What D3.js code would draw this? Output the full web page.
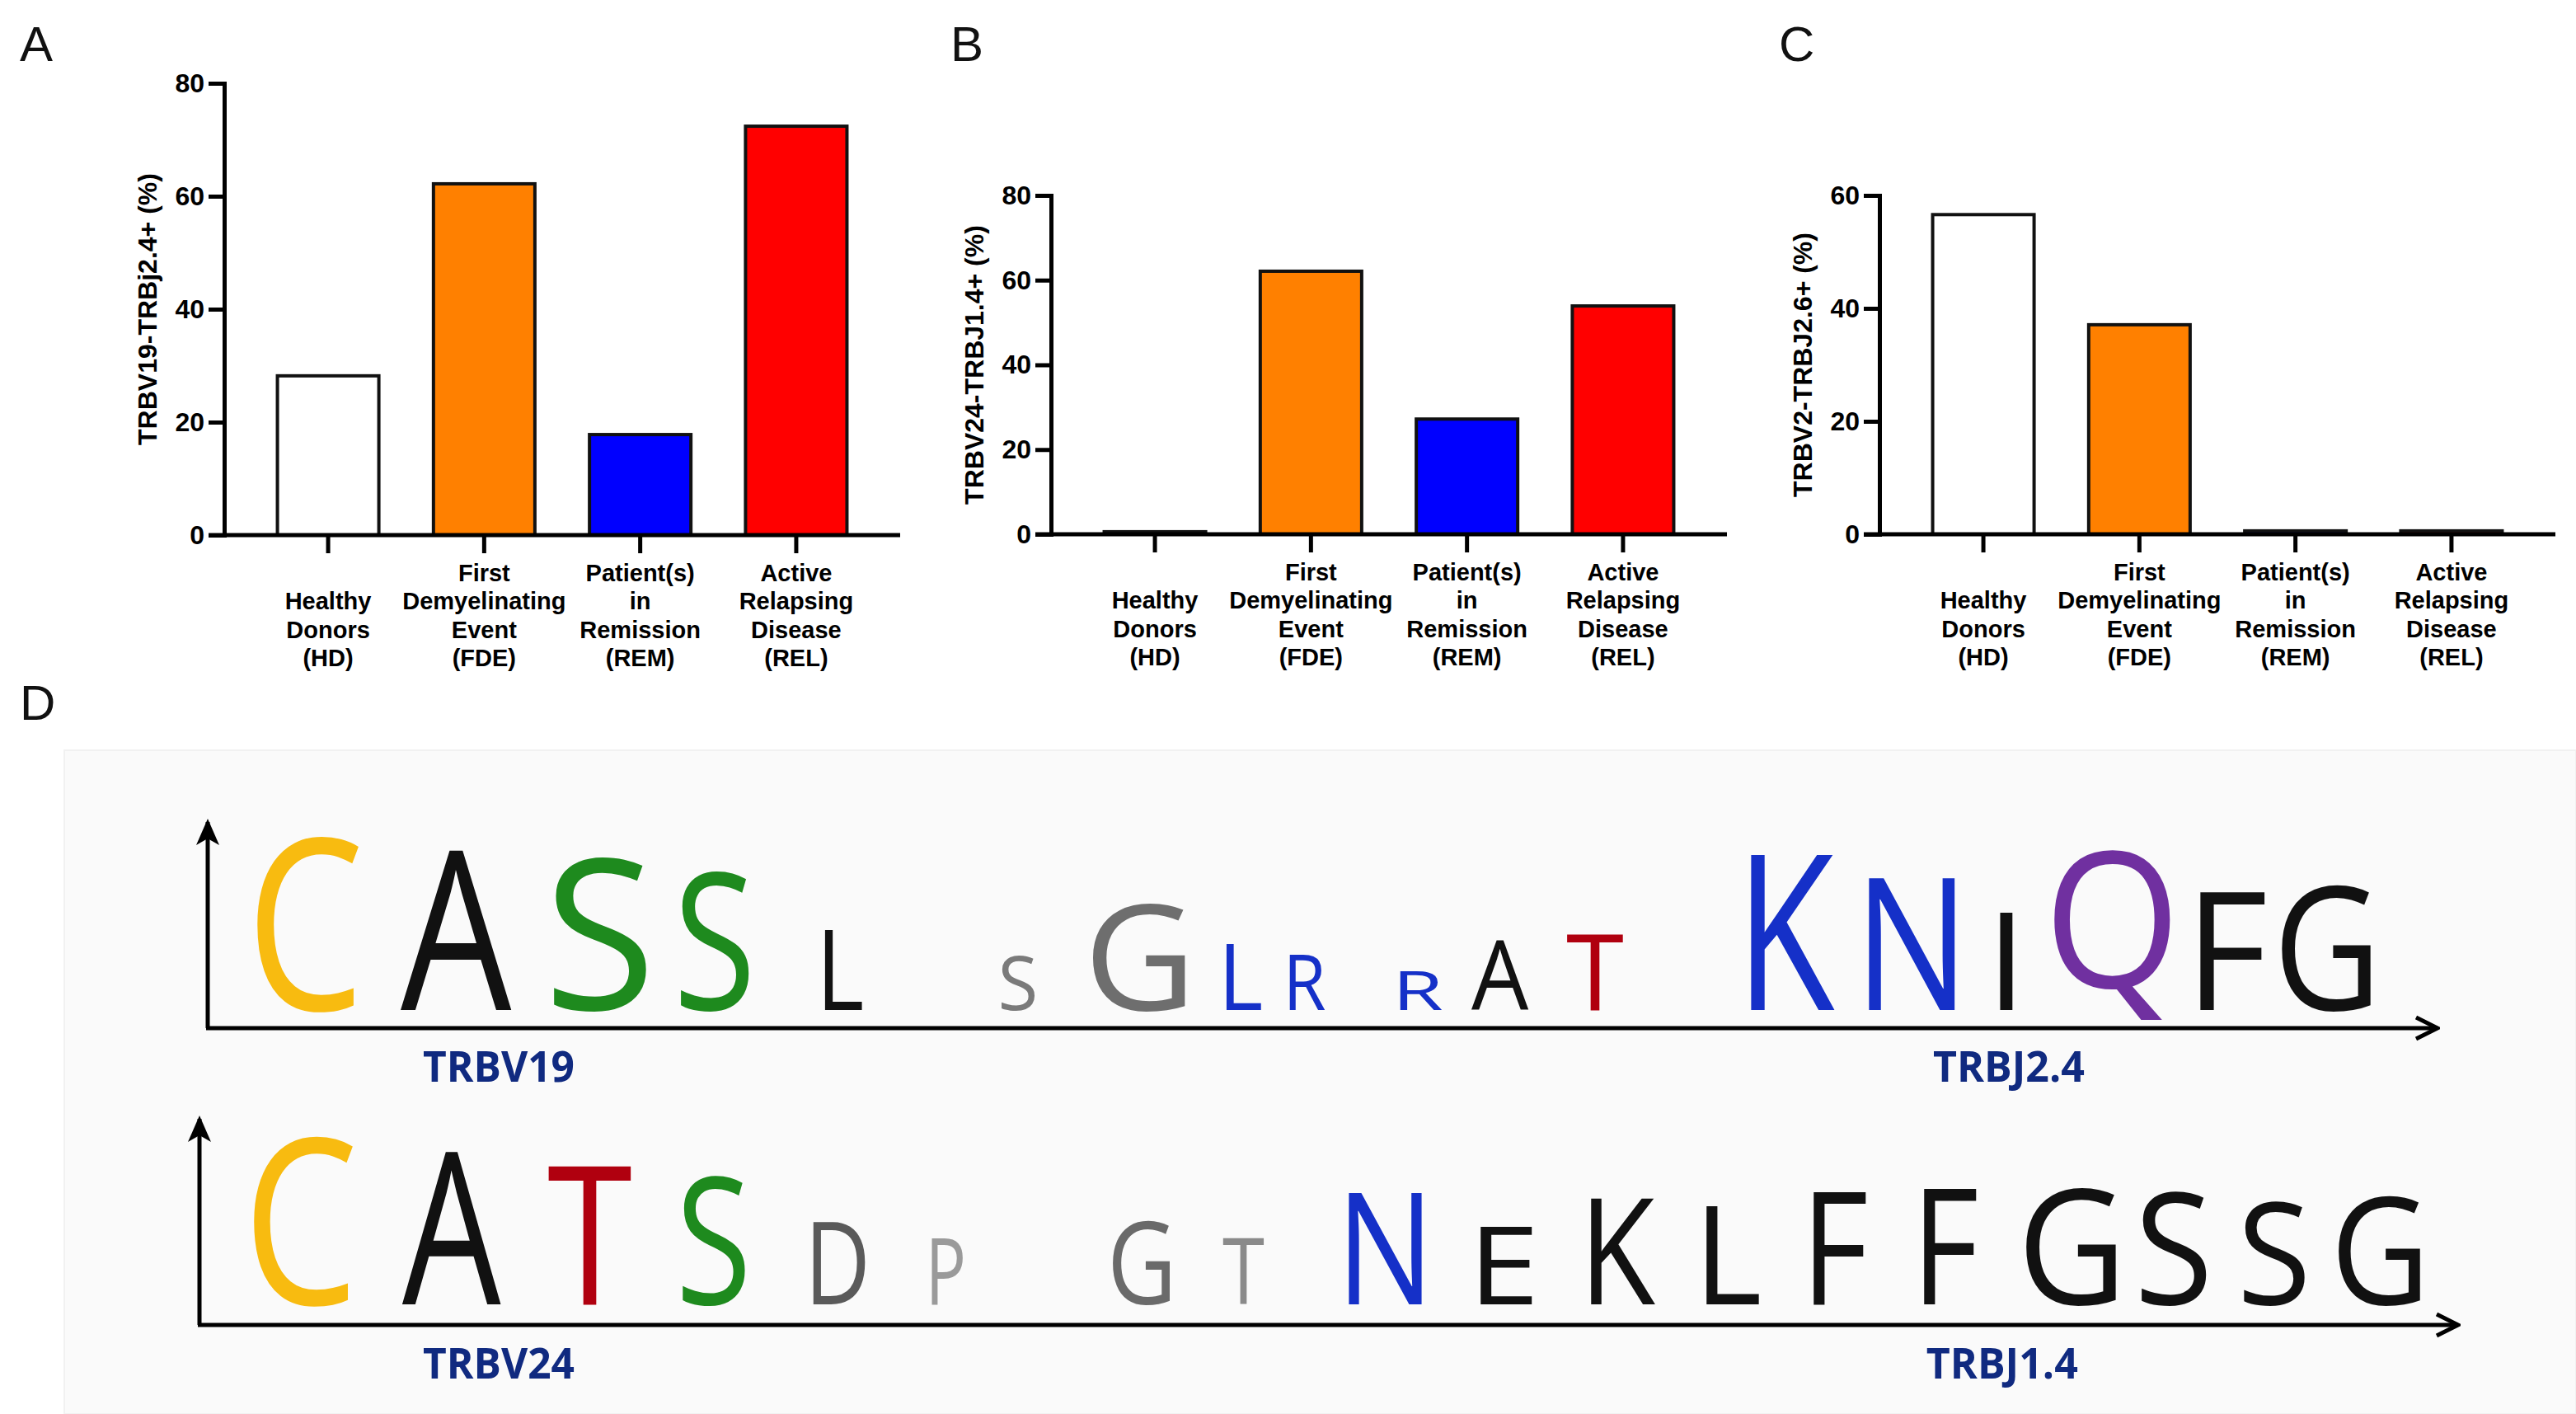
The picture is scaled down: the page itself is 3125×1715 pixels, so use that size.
<!DOCTYPE html>
<html>
<head>
<meta charset="utf-8">
<script src="https://cdn.jsdelivr.net/npm/d3@7"></script>
<style>
html, body { margin: 0; padding: 0; background: #fff; }
svg { display: block; }
</style>
</head>
<body>
<svg id="fig" width="3125" height="1715"></svg>
<script>
// ---- panels A-C : bar charts ----
var groupKeys = ["HD", "FDE", "REM", "REL"];
var groupLabels = [
  ["Healthy", "Donors", "(HD)"],
  ["First", "Demyelinating", "Event", "(FDE)"],
  ["Patient(s)", "in", "Remission", "(REM)"],
  ["Active", "Relapsing", "Disease", "(REL)"]
];
var valuesA = [28.2, 62.2, 17.8, 72.4];
var valuesB = [0.6, 62.1, 27.2, 53.9];
var valuesC = [56.6, 37.1, 0.6, 0.6];
var ticksA = [0, 20, 40, 60, 80];
var ticksB = [0, 20, 40, 60, 80];
var ticksC = [0, 20, 40, 60];
var titleA = "TRBV19-TRBj2.4+ (%)";
var titleB = "TRBV24-TRBJ1.4+ (%)";
var titleC = "TRBV2-TRBJ2.6+ (%)";

// ---- panel D : sequence logos (positions in % of logo axis, heights in bits) ----
var logo1Letters = ["C","A","S","S","L","S","G","L","R","R","A","T","K","N","I","Q","F","G"];
var logo1Start = [2.29, 8.71, 15.57, 21.25, 27.68, 35.61, 39.70, 45.65, 48.49, 53.43, 56.64, 60.89, 69.11, 74.39, 80.26, 82.73, 89.22, 92.92];
var logo1End   = [6.83, 13.73, 19.78, 24.35, 29.37, 37.12, 43.87, 47.23, 50.11, 55.35, 59.23, 63.47, 72.95, 78.30, 80.92, 87.93, 92.18, 96.94];
var logo1Bits  = [3.66, 3.40, 3.21, 2.92, 1.68, 1.16, 2.25, 1.38, 1.17, 0.81, 1.47, 1.61, 3.32, 2.82, 2.07, 3.37, 2.49, 2.63];

var logo2Letters = ["C","A","T","S","D","P","G","T","N","E","K","L","F","F","G","S","S","G"];
var logo2Start = [2.14, 8.78, 15.28, 21.33, 27.16, 32.47, 40.59, 45.50, 51.11, 57.01, 61.96, 67.12, 71.92, 76.86, 81.48, 86.64, 91.22, 95.46];
var logo2End   = [6.57, 13.25, 19.08, 24.17, 29.52, 33.87, 43.17, 47.38, 54.43, 59.37, 64.91, 69.52, 74.32, 79.26, 85.54, 89.59, 93.99, 99.15];
var logo2Bits  = [3.54, 3.25, 2.97, 2.71, 1.73, 1.38, 1.76, 1.42, 2.37, 1.64, 2.26, 2.07, 2.37, 2.45, 2.45, 2.37, 2.18, 2.28];

// colours
var barFill = {HD: "#ffffff", FDE: "#ff8000", REM: "#0000ff", REL: "#ff0000"};
var logo1Colors = ["#f8bb10","#111111","#1e8a1e","#1e8a1e","#111111","#7a7a7a","#6e6e6e","#1530c8","#1530c8","#1530c8",
                   "#111111","#b0000f","#1530c8","#1530c8","#111111","#7030a0","#111111","#111111"];
var logo2Colors = ["#f8bb10","#111111","#b0000f","#1e8a1e","#5a5a5a","#9a9a9a","#6a6a6a","#8a8a8a","#1530c8","#111111",
                   "#111111","#111111","#111111","#111111","#111111","#111111","#111111","#111111"];

var svg = d3.select("#fig");
var chartFont = "'Liberation Sans', Arial, Helvetica, sans-serif";

function barPanel(o) {
  var g = svg.append("g");
  var x = d3.scaleBand().domain(groupKeys)
    .range([o.left, o.left + 820])
    .paddingInner(0.35).paddingOuter(0.341);
  var y = d3.scaleLinear().domain([0, o.max]).range([o.bottom, o.top]);

  g.selectAll("rect.bar")
    .data(groupKeys)
    .enter().append("rect")
    .attr("class", "bar")
    .attr("x", function(d) { return x(d); })
    .attr("width", x.bandwidth())
    .attr("y", function(d, i) { return y(o.values[i]); })
    .attr("height", function(d, i) { return y(0) - y(o.values[i]); })
    .attr("fill", function(d) { return barFill[d]; })
    .attr("stroke", "#111")
    .attr("stroke-width", 4);

  // y axis
  var ya = g.append("g")
    .attr("transform", "translate(" + o.left + ",0)")
    .call(d3.axisLeft(y).tickValues(o.ticks).tickSize(19).tickSizeOuter(0).tickPadding(5));
  ya.select(".domain").attr("stroke", "#000").attr("stroke-width", 5).attr("stroke-linecap", "square");
  ya.selectAll(".tick line").attr("stroke", "#000").attr("stroke-width", 5);
  ya.selectAll(".tick text")
    .attr("font-family", chartFont).attr("font-weight", "bold")
    .attr("font-size", 32).attr("fill", "#000");

  // x axis, starts under the y ticks as in the original
  var xa = g.append("g")
    .attr("transform", "translate(0," + y(0) + ")")
    .call(d3.axisBottom(x).tickSize(22).tickSizeOuter(0).tickFormat(""));
  xa.select(".domain")
    .attr("d", "M" + (o.left - 19) + ",0H" + (o.left + 820))
    .attr("stroke", "#000").attr("stroke-width", 5);
  xa.selectAll(".tick line").attr("stroke", "#000").attr("stroke-width", 5);

  // category labels, bottom aligned
  g.selectAll("text.cat")
    .data(groupKeys)
    .enter().append("text")
    .attr("class", "cat")
    .attr("text-anchor", "middle")
    .attr("font-family", chartFont).attr("font-weight", "bold")
    .attr("font-size", 29).attr("fill", "#000")
    .each(function(d, i) {
      var lines = groupLabels[i];
      var t = d3.select(this);
      lines.forEach(function(s, k) {
        t.append("tspan")
          .attr("x", x(d) + x.bandwidth() / 2)
          .attr("y", o.bottom + 159 - (lines.length - 1 - k) * 34.3)
          .text(s);
      });
    });

  // y title
  g.append("text")
    .attr("transform", "translate(" + (o.left - 82) + "," + ((o.top + o.bottom) / 2) + ") rotate(-90)")
    .attr("text-anchor", "middle")
    .attr("font-family", chartFont).attr("font-weight", "bold")
    .attr("font-size", 32).attr("fill", "#000")
    .text(o.title);

  svg.append("text")
    .attr("x", o.tagX).attr("y", 74)
    .attr("font-family", chartFont).attr("font-size", 60).attr("fill", "#111")
    .text(o.tag);
}

barPanel({left: 272, top: 101, bottom: 649, max: 80, values: valuesA, ticks: ticksA, title: titleA, tag: "A", tagX: 24});
barPanel({left: 1275, top: 237, bottom: 648, max: 80, values: valuesB, ticks: ticksB, title: titleB, tag: "B", tagX: 1153});
barPanel({left: 2280, top: 237, bottom: 648, max: 60, values: valuesC, ticks: ticksC, title: titleC, tag: "C", tagX: 2158});

// ---- panel D ----
svg.append("text")
  .attr("x", 24).attr("y", 873)
  .attr("font-family", chartFont).attr("font-size", 60).attr("fill", "#111")
  .text("D");

svg.append("rect")
  .attr("x", 78).attr("y", 910).attr("width", 3047).attr("height", 805)
  .attr("fill", "#fafafa").attr("stroke", "#f1f1f1").attr("stroke-width", 2);

var defs = svg.append("defs");
defs.append("marker")
  .attr("id", "headFill")
  .attr("viewBox", "0 -16 32 32").attr("refX", 28).attr("refY", 0)
  .attr("markerUnits", "userSpaceOnUse").attr("markerWidth", 32).attr("markerHeight", 32)
  .attr("orient", "auto")
  .append("path").attr("d", "M0,-14L32,0L0,14L8,0Z").attr("fill", "#000");
defs.append("marker")
  .attr("id", "headOpen")
  .attr("viewBox", "0 -16 32 32").attr("refX", 29).attr("refY", 0)
  .attr("markerUnits", "userSpaceOnUse").attr("markerWidth", 32).attr("markerHeight", 32)
  .attr("orient", "auto")
  .append("path").attr("d", "M3,-13L29,0L3,13").attr("fill", "none")
  .attr("stroke", "#000").attr("stroke-width", 5);

var lx = d3.scaleLinear().domain([0, 100]).range([250, 2960]);
var bitLen = d3.scaleLinear().domain([0, 4.32]).range([0, 250]);

var logoFont = "'Open Sans', 'Noto Sans', sans-serif";
var ctx = document.createElement("canvas").getContext("2d");
ctx.font = "400 100px " + logoFont;

var rows = [
  {letters: logo1Letters, colors: logo1Colors, x0: logo1Start, x1: logo1End, bits: logo1Bits,
   base: 1225, axisY: 1247, origin: 252, tip: 2957, v: "TRBV19", j: "TRBJ2.4", vAt: 13.1, jAt: 80.7, labY: 1312},
  {letters: logo2Letters, colors: logo2Colors, x0: logo2Start, x1: logo2End, bits: logo2Bits,
   base: 1582, axisY: 1607, origin: 242, tip: 2982, v: "TRBV24", j: "TRBJ1.4", vAt: 13.1, jAt: 80.4, labY: 1672}
];

// fit each glyph's ink box to its column; glyphs with a tail (Q) keep only a short tail
function glyphTransform(d, x0, x1, h, base) {
  var m = ctx.measureText(d);
  var inkW = m.actualBoundingBoxLeft + m.actualBoundingBoxRight;
  var sx = (x1 - x0) / inkW;
  var asc = m.actualBoundingBoxAscent, desc = m.actualBoundingBoxDescent;
  var sy, shift = 0;
  if (desc > asc * 0.1) {
    var tail = h * 0.06;
    sy = (h + tail) / (asc + desc);
    shift = tail - desc * sy;
  } else {
    sy = h / asc;
  }
  return "translate(" + x0 + "," + (base + shift) + ") scale(" + sx + "," + sy + ") translate(" + m.actualBoundingBoxLeft + ",0)";
}

rows.forEach(function(r) {
  var g = svg.append("g");

  g.selectAll("text.res")
    .data(r.letters)
    .enter().append("text")
    .attr("class", "res")
    .attr("font-family", logoFont).attr("font-weight", 400)
    .attr("font-size", 100)
    .attr("fill", function(d, i) { return r.colors[i]; })
    .attr("transform", function(d, i) {
      return glyphTransform(d, lx(r.x0[i]), lx(r.x1[i]), bitLen(r.bits[i]), r.base);
    })
    .text(function(d) { return d; });

  g.append("path")
    .attr("d", "M" + r.origin + "," + r.axisY + "V" + (r.axisY - 250))
    .attr("stroke", "#000").attr("stroke-width", 5).attr("fill", "none")
    .attr("marker-end", "url(#headFill)");
  g.append("path")
    .attr("d", "M" + (r.origin - 2) + "," + r.axisY + "H" + r.tip)
    .attr("stroke", "#000").attr("stroke-width", 5).attr("fill", "none")
    .attr("marker-end", "url(#headOpen)");

  [[r.v, r.vAt], [r.j, r.jAt]].forEach(function(p) {
    g.append("text")
      .attr("x", lx(p[1])).attr("y", r.labY)
      .attr("text-anchor", "middle")
      .attr("font-family", logoFont).attr("font-weight", "bold")
      .attr("font-size", 52).attr("fill", "#102a80")
      .attr("textLength", 184).attr("lengthAdjust", "spacingAndGlyphs")
      .text(p[0]);
  });
});
</script>
</body>
</html>
